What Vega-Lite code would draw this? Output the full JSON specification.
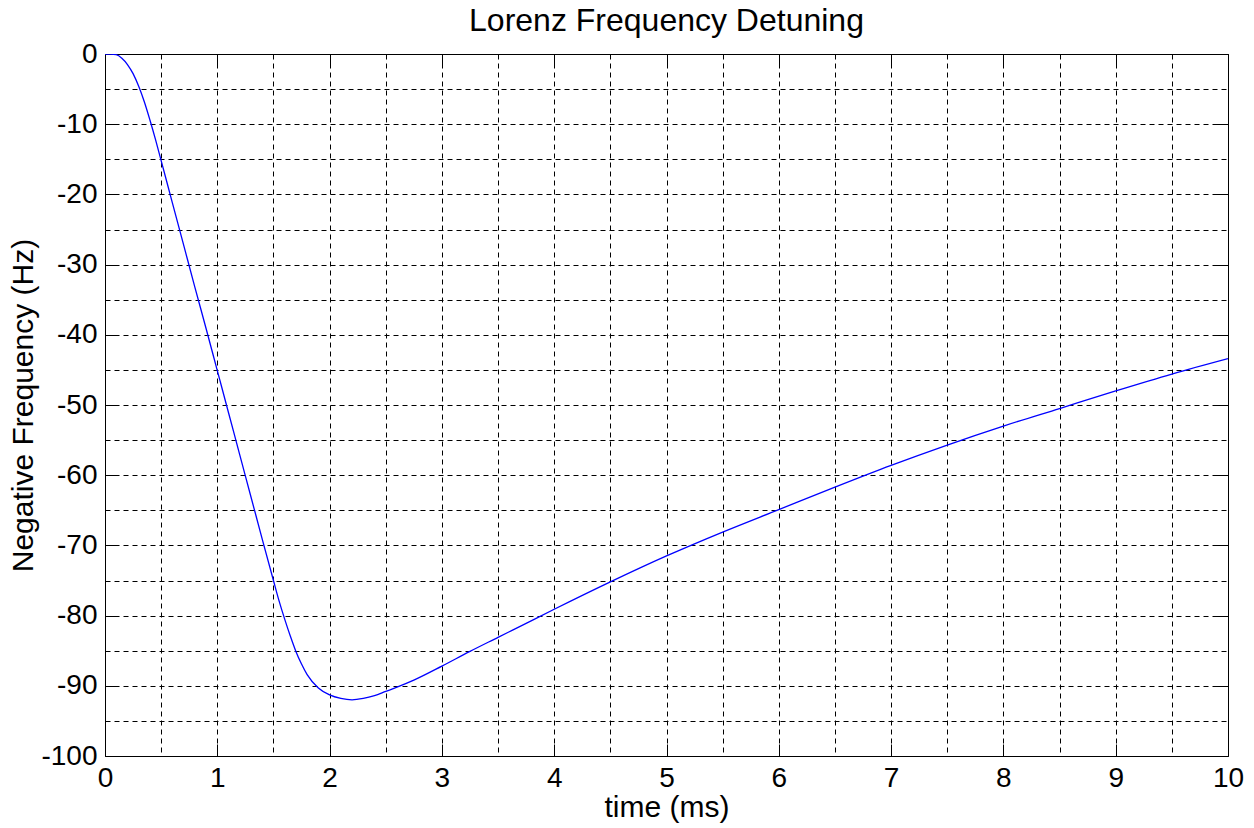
{
  "$schema": "https://vega.github.io/schema/vega-lite/v6.json",
  "width": 1123,
  "height": 702,
  "autosize": "none",
  "padding": {"left": 105, "top": 54, "right": 26, "bottom": 72},
  "background": "white",
  "title": {"text": "Lorenz Frequency Detuning", "fontSize": 32, "font": "Liberation Sans", "fontWeight": "normal", "color": "black", "anchor": "middle", "offset": 2},
  "config": {"view": {"stroke": "black", "strokeWidth": 1}, "font": "Liberation Sans"},
  "data": {"values": [
    {"t": 0, "f": 0}, {"t": 0.05, "f": 0}, {"t": 0.1, "f": -0.1}, {"t": 0.15, "f": -0.6}, {"t": 0.2, "f": -1.5},
    {"t": 0.25, "f": -2.8}, {"t": 0.3, "f": -4.6}, {"t": 0.35, "f": -6.8}, {"t": 0.4, "f": -9.4}, {"t": 0.45, "f": -12.2},
    {"t": 0.5, "f": -15.2}, {"t": 0.6, "f": -21.2}, {"t": 0.7, "f": -27.2}, {"t": 0.8, "f": -33.2}, {"t": 0.9, "f": -39.1},
    {"t": 1.0, "f": -45.1}, {"t": 1.1, "f": -51.1}, {"t": 1.2, "f": -57.1}, {"t": 1.3, "f": -63.1}, {"t": 1.4, "f": -69.1},
    {"t": 1.5, "f": -75.0}, {"t": 1.55, "f": -77.9}, {"t": 1.6, "f": -80.5}, {"t": 1.65, "f": -82.9}, {"t": 1.7, "f": -85.1},
    {"t": 1.75, "f": -86.9}, {"t": 1.8, "f": -88.4}, {"t": 1.9, "f": -90.3}, {"t": 2.0, "f": -91.3}, {"t": 2.1, "f": -91.8},
    {"t": 2.2, "f": -92.0}, {"t": 2.3, "f": -91.8}, {"t": 2.4, "f": -91.4}, {"t": 2.5, "f": -90.8}, {"t": 2.6, "f": -90.2},
    {"t": 2.75, "f": -89.2}, {"t": 3.0, "f": -87.2}, {"t": 3.25, "f": -85.1}, {"t": 3.5, "f": -83.1}, {"t": 3.75, "f": -81.1},
    {"t": 4.0, "f": -79.1}, {"t": 4.5, "f": -75.2}, {"t": 5.0, "f": -71.5}, {"t": 5.5, "f": -68.1}, {"t": 6.0, "f": -64.9},
    {"t": 6.5, "f": -61.7}, {"t": 7.0, "f": -58.6}, {"t": 7.5, "f": -55.7}, {"t": 8.0, "f": -53.0}, {"t": 8.5, "f": -50.5},
    {"t": 9.0, "f": -48.0}, {"t": 9.5, "f": -45.6}, {"t": 10.0, "f": -43.4}
  ]},
  "layer": [
    {
      "mark": {"type": "line", "color": "#0000ff", "strokeWidth": 1.3, "clip": true, "interpolate": "monotone"},
      "encoding": {
        "x": {"field": "t", "type": "quantitative", "scale": {"domain": [0, 10], "nice": false, "zero": false},
          "axis": {"orient": "bottom", "values": [0,0.5,1,1.5,2,2.5,3,3.5,4,4.5,5,5.5,6,6.5,7,7.5,8,8.5,9,9.5,10],
            "labelExpr": "datum.value % 1 === 0 ? '' + datum.value : ''",
            "grid": true, "gridDash": [5, 4], "gridColor": "black", "gridWidth": 1, "gridOpacity": 1,
            "domain": false, "tickColor": "black", "tickWidth": 1,
            "tickSize": {"condition": {"test": "datum.value % 1 !== 0", "value": 0}, "value": -12},
            "labelFontSize": 28, "labelColor": "black", "labelPadding": 20, "labelFont": "Liberation Sans",
            "labelFlush": false, "labelOverlap": false,
            "title": "time (ms)", "titleFontSize": 30, "titleFontWeight": "normal", "titleColor": "black", "titleFont": "Liberation Sans", "titlePadding": -12}},
        "y": {"field": "f", "type": "quantitative", "scale": {"domain": [-100, 0], "nice": false, "zero": false},
          "axis": {"orient": "left", "values": [-100,-95,-90,-85,-80,-75,-70,-65,-60,-55,-50,-45,-40,-35,-30,-25,-20,-15,-10,-5,0],
            "labelExpr": "datum.value % 10 === 0 ? '' + datum.value : ''",
            "grid": true, "gridDash": [5, 4], "gridColor": "black", "gridWidth": 1, "gridOpacity": 1,
            "domain": false, "tickColor": "black", "tickWidth": 1,
            "tickSize": {"condition": {"test": "datum.value % 10 !== 0", "value": 0}, "value": -12},
            "labelFontSize": 28, "labelColor": "black", "labelPadding": 20, "labelFont": "Liberation Sans",
            "labelFlush": false, "labelOverlap": false,
            "title": "Negative Frequency (Hz)", "titleFontSize": 30, "titleFontWeight": "normal", "titleColor": "black", "titleFont": "Liberation Sans", "titlePadding": 2}}
      }
    },
    {
      "mark": {"type": "line", "strokeOpacity": 0},
      "encoding": {
        "x": {"field": "t", "type": "quantitative",
          "axis": {"orient": "top", "values": [0,1,2,3,4,5,6,7,8,9,10], "labels": false, "grid": false, "domain": false,
            "tickColor": "black", "tickWidth": 1, "tickSize": -12, "title": null}},
        "y": {"field": "f", "type": "quantitative",
          "axis": {"orient": "right", "values": [-100,-90,-80,-70,-60,-50,-40,-30,-20,-10,0], "labels": false, "grid": false, "domain": false,
            "tickColor": "black", "tickWidth": 1, "tickSize": -12, "title": null}}
      }
    }
  ],
  "resolve": {"axis": {"x": "independent", "y": "independent"}}
}
